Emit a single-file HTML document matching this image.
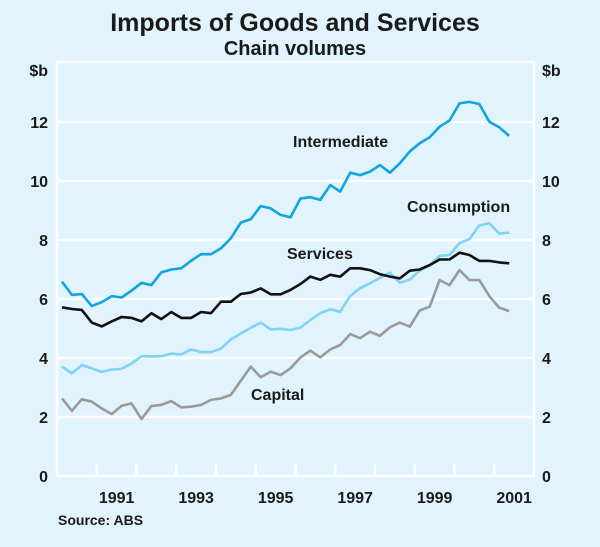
<!DOCTYPE html>
<html><head><meta charset="utf-8"><style>
html,body{margin:0;padding:0;background:#e1f3fc;}
svg{display:block;font-family:"Liberation Sans",sans-serif;}
</style></head><body>
<svg id="chart" width="600" height="547" viewBox="0 0 600 547" xmlns="http://www.w3.org/2000/svg">
<rect x="0" y="0" width="600" height="547" fill="#e1f3fc"/>
<text x="295" y="31" text-anchor="middle" font-size="25" font-weight="bold" fill="#1a1a1a">Imports of Goods and Services</text>
<text x="295" y="55" text-anchor="middle" font-size="20" font-weight="bold" fill="#1a1a1a">Chain volumes</text>
<text x="48" y="76" text-anchor="end" font-size="16" font-weight="bold" fill="#1a1a1a">$b</text>
<text x="542" y="76" text-anchor="start" font-size="16" font-weight="bold" fill="#1a1a1a">$b</text>
<g id="grid"></g>
<g id="series"></g>
<g id="labels"></g>
<text x="58" y="525" font-size="14" font-weight="bold" fill="#1a1a1a">Source: ABS</text>
</svg>
<script>
const yTicks = [0, 2, 4, 6, 8, 10, 12];
const xTickLabels = ["1991", "1993", "1995", "1997", "1999", "2001"];
const intermediate = [6.59,6.14,6.17,5.76,5.89,6.10,6.05,6.28,6.55,6.47,6.90,7.00,7.04,7.30,7.52,7.52,7.72,8.06,8.59,8.71,9.15,9.07,8.85,8.77,9.41,9.45,9.36,9.86,9.64,10.28,10.20,10.32,10.54,10.28,10.60,11.00,11.28,11.48,11.84,12.05,12.63,12.68,12.61,12.01,11.82,11.53];
const services = [5.72,5.66,5.63,5.20,5.07,5.24,5.39,5.36,5.24,5.52,5.32,5.56,5.36,5.36,5.56,5.52,5.91,5.91,6.17,6.22,6.36,6.16,6.16,6.31,6.51,6.76,6.65,6.82,6.76,7.04,7.04,6.98,6.84,6.76,6.70,6.96,7.00,7.15,7.34,7.34,7.57,7.49,7.29,7.29,7.24,7.21];
const consumption = [3.71,3.48,3.76,3.65,3.53,3.61,3.63,3.81,4.06,4.05,4.06,4.15,4.12,4.29,4.20,4.20,4.32,4.63,4.83,5.02,5.20,4.97,4.99,4.95,5.03,5.29,5.52,5.65,5.57,6.10,6.37,6.53,6.72,6.89,6.55,6.66,6.96,7.15,7.46,7.49,7.89,8.03,8.49,8.57,8.22,8.25];
const capital = [2.63,2.21,2.60,2.52,2.29,2.10,2.38,2.46,1.93,2.37,2.41,2.54,2.33,2.35,2.41,2.58,2.63,2.75,3.23,3.71,3.35,3.54,3.42,3.65,4.02,4.25,4.02,4.29,4.44,4.81,4.67,4.89,4.75,5.04,5.20,5.06,5.61,5.74,6.64,6.47,6.98,6.64,6.64,6.10,5.71,5.59];

const NS = "http://www.w3.org/2000/svg";
const L = 57, R = 534, T = 62, B = 476;
const qw = (R - L) / 48;
const xq = i => L + (i + 0.5) * qw;
const yv = v => B - v * 29.5;
function mk(tag, attrs, parent) {
  const e = document.createElementNS(NS, tag);
  for (const k in attrs) e.setAttribute(k, attrs[k]);
  parent.appendChild(e);
  return e;
}
const grid = document.getElementById('grid');
const labels = document.getElementById('labels');
const fr = mk('path', {d:`M${L} ${B} V${T} H${R} V${B} Z`, fill:'none', stroke:'#fff', 'stroke-width':2.5}, grid);


yTicks.forEach(v => {
  if (v > 0) {
    const g = mk('line', {x1:L, x2:R, y1:yv(v), y2:yv(v), stroke:'#fff', 'stroke-width':2.5}, grid);
    
    
  }
  const tl = mk('text', {x:48, y:yv(v)+6, 'text-anchor':'end', 'font-size':16, 'font-weight':'bold', fill:'#1a1a1a'}, labels);
  tl.textContent = v;
  
  
  const tr = mk('text', {x:542, y:yv(v)+6, 'text-anchor':'start', 'font-size':16, 'font-weight':'bold', fill:'#1a1a1a'}, labels);
  tr.textContent = v;
  
  
});
for (let k = 1; k < 12; k++) {
  const x = L + k * 4 * qw;
  const t = mk('line', {x1:x, x2:x, y1:B, y2:B-12, stroke:'#fff', 'stroke-width':2.5}, grid);
  
  
}
xTickLabels.forEach((s, j) => {
  const x = L + (1 + 2 * j) * 4 * qw + 2 * qw;
  const t = mk('text', {x:x, y:503, 'text-anchor':'middle', 'font-size':16, 'font-weight':'bold', fill:'#1a1a1a'}, labels);
  t.textContent = s;
  
  
});
const ser = document.getElementById('series');
function line(data, color, name) {
  const d = data.map((v, i) => (i ? 'L' : 'M') + xq(i).toFixed(1) + ' ' + yv(v).toFixed(1)).join(' ');
  const p = mk('path', {d:d, fill:'none', stroke:color, 'stroke-width':2.6, 'stroke-linejoin':'round'}, ser);
  
  
}
line(capital, '#9a9a9a', 'capital-line');
line(consumption, '#80d2f6', 'consumption-line');
line(services, '#111111', 'services-line');
line(intermediate, '#12a3e3', 'intermediate-line');
const lab = [["Intermediate", 293, 147, 'intermediate-label'], ["Consumption", 407, 212, 'consumption-label'], ["Services", 287, 259, 'services-label'], ["Capital", 251, 400, 'capital-label']];
lab.forEach(a => {
  const t = mk('text', {x:a[1], y:a[2], 'font-size':16, 'font-weight':'bold', fill:'#1a1a1a'}, labels);
  t.textContent = a[0];
  
  
});
</script>
</body></html>
